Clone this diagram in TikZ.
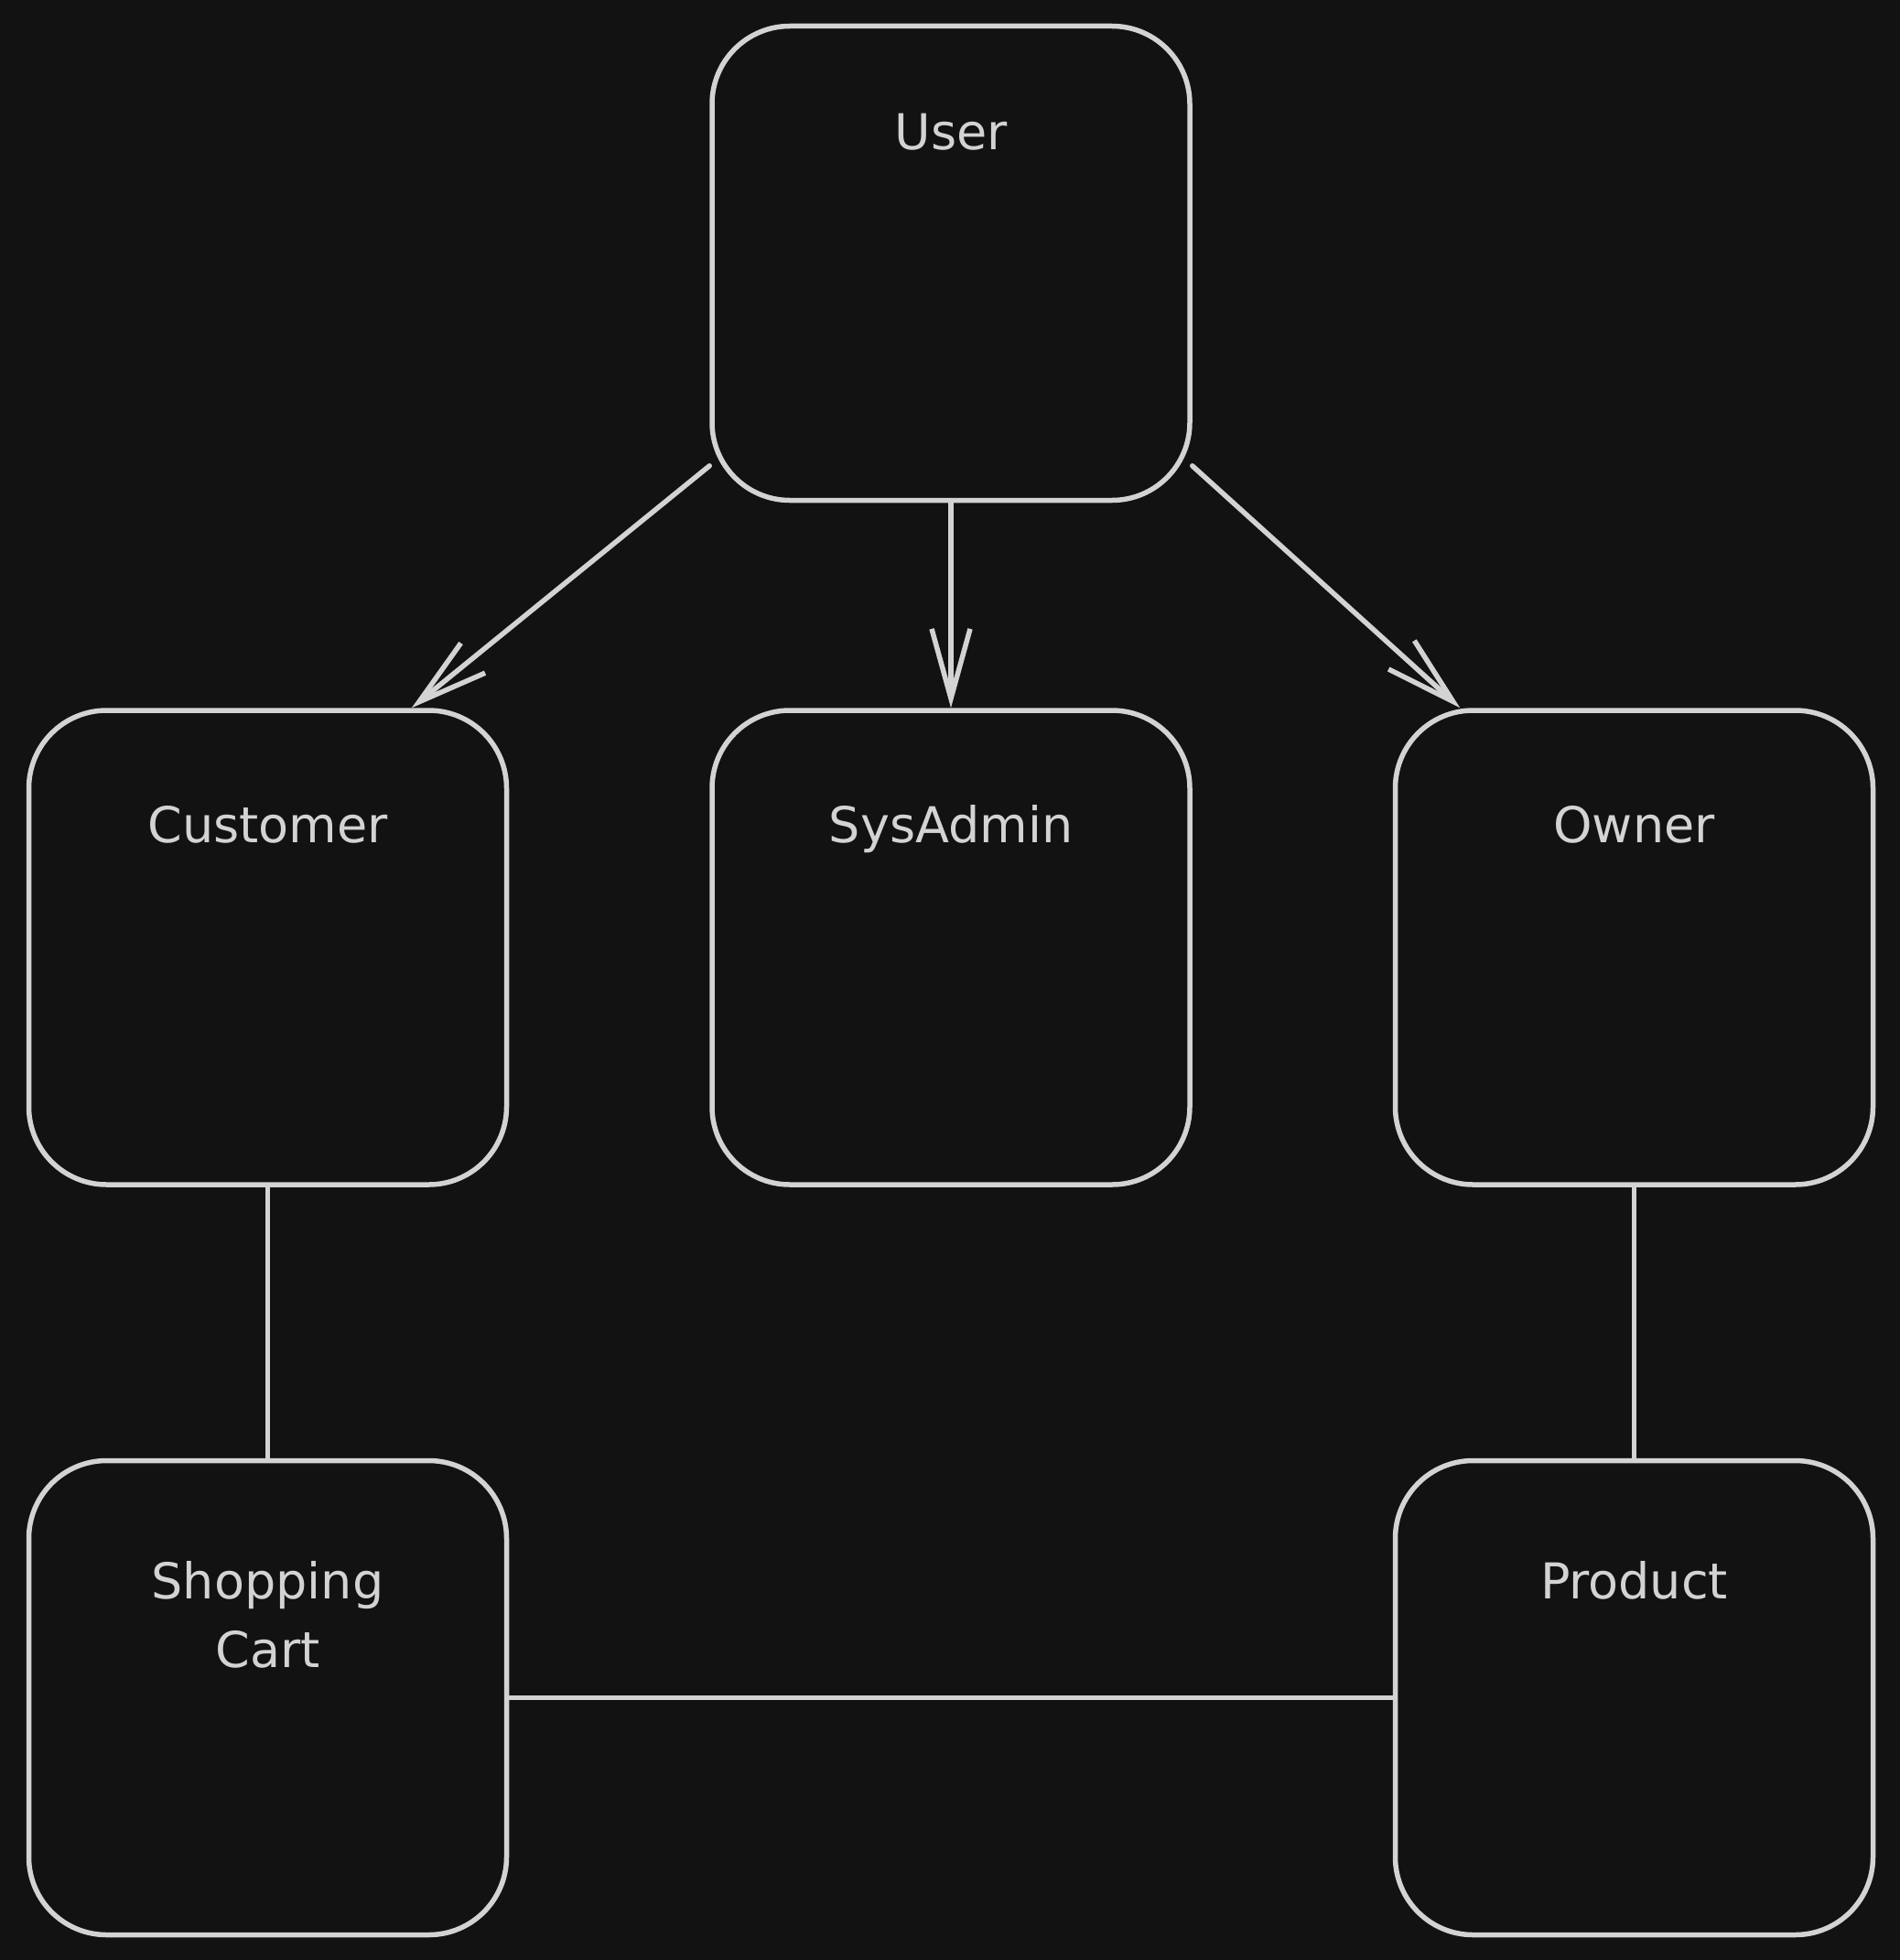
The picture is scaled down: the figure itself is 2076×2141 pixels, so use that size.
\documentclass[tikz,border=0pt]{standalone}
\usepackage{fontspec}
\setmainfont{DejaVu Sans}
\usetikzlibrary{arrows.meta,positioning}
\definecolor{canvas}{HTML}{121212}
\definecolor{ink}{HTML}{D3D3D3}
\tikzset{
  >={Straight Barb[length=76pt,width=42pt]},
  every node/.style={text=ink},
  entity/.style={draw=ink,line width=5.5pt,rounded corners=85pt,minimum width=522pt,minimum height=518pt,inner sep=0pt},
  title/.style={font=\fontsize{54}{75}\selectfont,align=center,anchor=base,inner sep=0pt},
  arrow/.style={->,line width=5.5pt,draw=ink,line cap=round,line join=round},
  link/.style={line width=5.5pt,draw=ink,line cap=round},
}

\begin{document}
\begin{tikzpicture}[x=1pt,y=-1pt,node distance=224pt and 219pt]

\fill[canvas] (0,0) rectangle (2076,2141);
\useasboundingbox (0,0) rectangle (2076,2141);

\node[entity] (sysadmin) at (1039,1035) {};
\node[entity,left=of sysadmin] (customer) {};
\node[entity,right=of sysadmin] (owner) {};
\node[entity,above=of sysadmin] (user) {};
\node[entity,below=296pt of customer] (cart) {};
\node[entity,below=296pt of owner] (product) {};

\node[title] (usertitle) at ([yshift=-138pt]user.north) {User};
\node[title] (customertitle) at ([yshift=-147pt]customer.north) {Customer};
\node[title] (sysadmintitle) at ([yshift=-147pt]sysadmin.north) {SysAdmin};
\node[title] (ownertitle) at ([yshift=-147pt]owner.north) {Owner};
\node[title] (carttitle) at ([yshift=-229pt]cart.north) {Shopping\\Cart};
\node[title] (producttitle) at ([yshift=-154pt]product.north) {Product};

\draw[arrow] (user.220) -- (customer.59);
\draw[arrow] (user.south) -- (sysadmin.north);
\draw[arrow] (user.320) -- (owner.126);

\draw[link] (customer.south) -- (cart.north);
\draw[link] (owner.south) -- (product.north);
\draw[link] (cart.east) -- (product.west);

\end{tikzpicture}
\end{document}
